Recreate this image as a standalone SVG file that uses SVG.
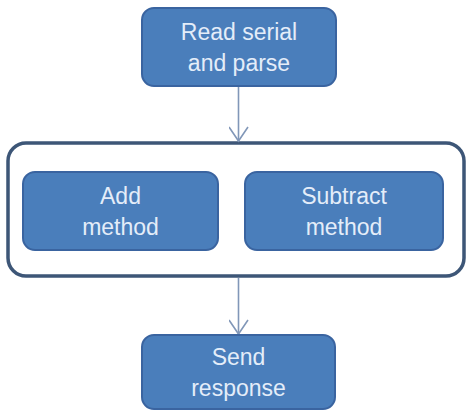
<svg xmlns="http://www.w3.org/2000/svg" width="468" height="411" viewBox="0 0 468 411">
  <defs>
    <style>
      .box { fill: #4a7ebb; stroke: #3a64a0; stroke-width: 2; }
      .group { fill: #ffffff; stroke: #3d5677; stroke-width: 3.5; }
      .label { font-family: "Liberation Sans", Arial, sans-serif; font-size: 23px; fill: #e4edf9; text-anchor: middle; }
      .link { fill: none; stroke: #8197b8; stroke-width: 1.6; }
    </style>
    <marker id="openArrow" viewBox="0 0 20 20" refX="18" refY="10" markerWidth="20" markerHeight="20" markerUnits="userSpaceOnUse" orient="auto">
      <path d="M4,0.5 L18,10 L4,19.5" fill="none" stroke="#8197b8" stroke-width="1.6"/>
    </marker>
  </defs>

  <rect width="468" height="411" fill="#ffffff"/>

  <g id="methods-group">
    <rect class="group" x="8" y="143" width="456" height="133" rx="18" ry="18"/>
  </g>

  <g id="connectors">
    <line class="link" x1="238.5" y1="86" x2="238.5" y2="141" marker-end="url(#openArrow)"/>
    <line class="link" x1="238.5" y1="278" x2="238.5" y2="334" marker-end="url(#openArrow)"/>
  </g>

  <g id="read-serial">
    <rect class="box" x="142" y="8" width="194" height="78" rx="12" ry="12"/>
    <text class="label" x="239" y="40">Read serial</text>
    <text class="label" x="239" y="71">and parse</text>
  </g>

  <g id="add-method">
    <rect class="box" x="23" y="172" width="195" height="78" rx="12" ry="12"/>
    <text class="label" x="120.5" y="204">Add</text>
    <text class="label" x="120.5" y="235">method</text>
  </g>

  <g id="subtract-method">
    <rect class="box" x="245" y="172" width="198" height="78" rx="12" ry="12"/>
    <text class="label" x="344" y="204">Subtract</text>
    <text class="label" x="344" y="235">method</text>
  </g>

  <g id="send-response">
    <rect class="box" x="142" y="335" width="193" height="74" rx="12" ry="12"/>
    <text class="label" x="238.5" y="365">Send</text>
    <text class="label" x="238.5" y="396">response</text>
  </g>
</svg>
